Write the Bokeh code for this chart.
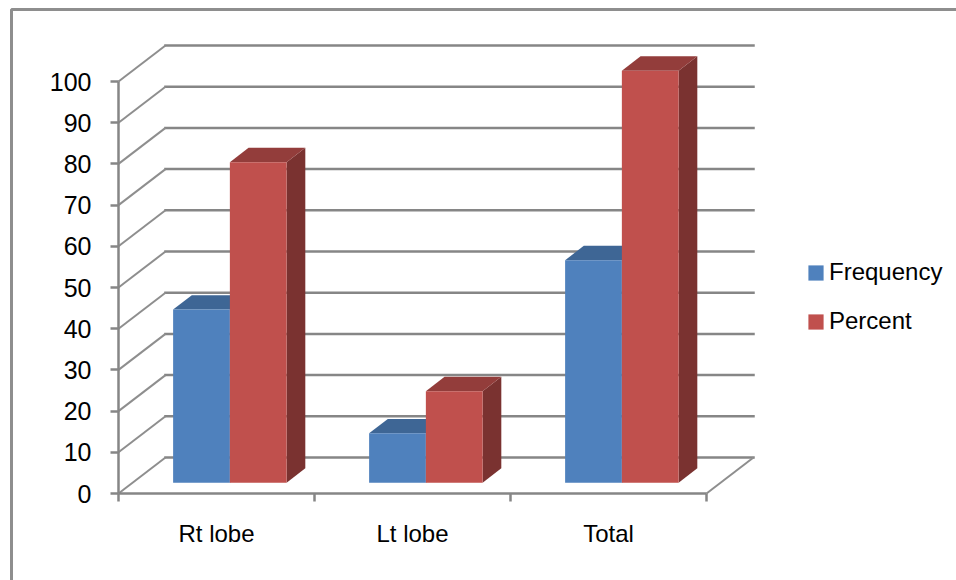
from bokeh.embed import file_html
from bokeh.resources import INLINE
from bokeh.plotting import figure
from bokeh.models import (BoxAnnotation, FixedTicker, Legend, LegendItem, LinearAxis, Range1d)

categories = ["Rt lobe", "Lt lobe", "Total"]
frequency = [42, 12, 54]
percent = [77.8, 22.2, 100]
value_ticks = list(range(0, 101, 10))

WIDTH, HEIGHT = 956, 580
ORIGIN_X, ORIGIN_Y = 118, 493
PX_PER_CAT = 196.0
PX_PER_VAL = 4.12
DEPTH_X = 47 / PX_PER_CAT
DEPTH_Y = 36 / PX_PER_VAL
BAR_W = 0.2895
BAR_GAP = (1 - 2 * BAR_W) / 2 - 0.004
Z0, Z1 = 0.301, 0.699
GRID = "#868686"
FONT = "Liberation Sans"


def proj(x, v, z):
    return x + z * DEPTH_X, v + z * DEPTH_Y


p = figure(width=WIDTH, height=HEIGHT, output_backend="svg", toolbar_location=None,
           x_range=Range1d(-ORIGIN_X / PX_PER_CAT, (WIDTH - ORIGIN_X) / PX_PER_CAT),
           y_range=Range1d((ORIGIN_Y - HEIGHT) / PX_PER_VAL, ORIGIN_Y / PX_PER_VAL),
           x_axis_location=None, y_axis_location=None,
           min_border=0)
p.outline_line_color = None
p.grid.visible = False
p.background_fill_color = "white"
p.border_fill_color = "white"

# axes
ya = LinearAxis(fixed_location=0)
ya.ticker = FixedTicker(ticks=value_ticks)
ya.bounds = (0, 100)
ya.axis_line_color = GRID
ya.axis_line_width = 2.5
ya.major_tick_line_color = GRID
ya.major_tick_line_width = 2.5
ya.major_tick_out = 8
ya.major_tick_in = 0
ya.minor_tick_out = 0
ya.minor_tick_in = 0
ya.major_label_standoff = 19
ya.major_label_text_font = FONT
ya.major_label_text_font_size = "25px"
ya.major_label_text_color = "#000000"
p.add_layout(ya, "left")

xa = LinearAxis(fixed_location=0)
n = len(categories)
xa.ticker = FixedTicker(ticks=[i + 0.5 for i in range(n)], minor_ticks=list(range(n + 1)))
xa.major_label_overrides = {i + 0.5: c for i, c in enumerate(categories)}
xa.bounds = (0, n)
xa.axis_line_color = GRID
xa.axis_line_width = 2.5
xa.major_tick_line_color = None
xa.major_tick_out = 0
xa.major_tick_in = 0
xa.minor_tick_line_color = GRID
xa.minor_tick_line_width = 2.5
xa.minor_tick_out = 8
xa.minor_tick_in = 0
xa.major_label_standoff = 18
xa.major_label_text_font = FONT
xa.major_label_text_font_size = "24px"
xa.major_label_text_color = "#000000"
p.add_layout(xa, "below")

# walls: diagonals on the floor/side and horizontal lines on the back wall
diag_x, diag_y, back_x, back_y = [], [], [], []
for v in value_ticks:
    x0, y0 = proj(0, v, 0)
    x1, y1 = proj(0, v, 1)
    x2, y2 = proj(n, v, 1)
    diag_x.append([x0, x1])
    diag_y.append([y0, y1])
    back_x.append([x1, x2])
    back_y.append([y1, y2])
x0, y0 = proj(n, 0, 0)
x1, y1 = proj(n, 0, 1)
diag_x.append([x0, x1])
diag_y.append([y0, y1])
p.multi_line(back_x, back_y, line_color=GRID, line_width=2.5, line_cap="square")
p.multi_line(diag_x, diag_y, line_color="#8e8e8e", line_width=2)


def bars(values, offset, front, side, top):
    lefts = [i + BAR_GAP + offset * BAR_W for i in range(len(values))]
    rights = [l + BAR_W for l in lefts]
    side_x, side_y, top_x, top_y, fx, fy = [], [], [], [], [], []
    for l, r, v in zip(lefts, rights, values):
        pts = [proj(r, 0, Z0), proj(r, v, Z0), proj(r, v, Z1), proj(r, 0, Z1)]
        side_x.append([q[0] for q in pts])
        side_y.append([q[1] for q in pts])
        pts = [proj(l, v, Z0), proj(r, v, Z0), proj(r, v, Z1), proj(l, v, Z1)]
        top_x.append([q[0] for q in pts])
        top_y.append([q[1] for q in pts])
        pts = [proj(l, 0, Z0), proj(r, 0, Z0), proj(r, v, Z0), proj(l, v, Z0)]
        fx.append([q[0] for q in pts])
        fy.append([q[1] for q in pts])
    p.patches(side_x, side_y, fill_color=side, line_color=None)
    p.patches(top_x, top_y, fill_color=top, line_color=None)
    return p.patches(fx, fy, fill_color=front, line_color=None)


r_freq = bars(frequency, 0, "#4F81BD", "#38608F", "#3E6695")
r_pct = bars(percent, 1, "#C0504D", "#7A3230", "#933D3B")

legend = Legend(items=[LegendItem(label="Frequency", renderers=[r_freq]),
                       LegendItem(label="Percent", renderers=[r_pct])],
                location=(806, 245), orientation="vertical",
                glyph_width=19, glyph_height=19, label_standoff=4, spacing=21,
                label_text_font=FONT, label_text_font_size="24px", label_text_color="#000000",
                border_line_color=None, background_fill_alpha=0, padding=0, margin=0)
p.add_layout(legend, "center")

# outer chart-area border
p.add_layout(BoxAnnotation(left=11, right=1100, top=9, bottom=1100,
                           left_units="canvas", right_units="canvas",
                           top_units="canvas", bottom_units="canvas",
                           fill_alpha=0, line_color="#8e8e8e", line_alpha=1, line_width=3))

open("out.html", "w").write(file_html(p, INLINE))
